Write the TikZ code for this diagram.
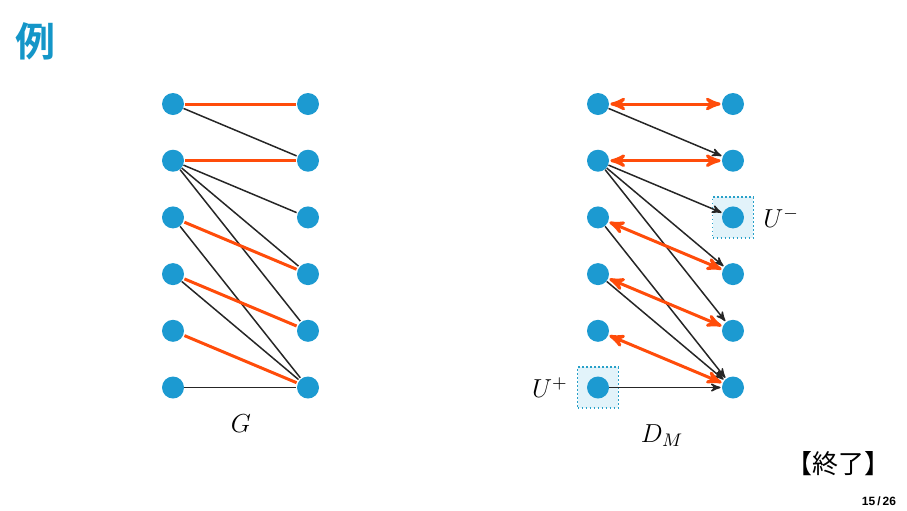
\RequirePackage{fix-cm}
\documentclass[tikz,border=0pt]{standalone}
\usepackage{fontspec}
\newfontfamily\cjk{Noto Sans CJK JP}[BoldFont={Noto Sans CJK JP Bold}]
\newfontfamily\numfont{Liberation Sans}
\usetikzlibrary{
        arrows,
        backgrounds,
        fit,
        positioning
    }
\definecolor{vblue}{RGB}{28,154,209}
\definecolor{matchred}{RGB}{255,76,10}
\definecolor{titleblue}{RGB}{20,150,200}
\definecolor{boxfill}{RGB}{226,243,250}
\definecolor{boxline}{RGB}{40,160,200}
\tikzset{vtx/.style={circle,fill=vblue,inner sep=0pt,minimum size=11pt}}
\tikzset{plain/.style={line width=0.75pt,black!85,shorten >=0.5pt}}
\tikzset{match/.style={line width=1.5pt,matchred,shorten >=0.5pt,shorten <=0.5pt}}
\tikzset{ubox/.style={draw=boxline,fill=boxfill,line width=0.8pt,dash pattern=on 0.9pt off 1.1pt,inner sep=4.5pt}}
\tikzset{mathlbl/.style={font=\fontsize{13}{15}\selectfont}}

\begin{document}
\begin{tikzpicture}[x=0.5pt,y=-0.5pt,>=stealth',node distance=28.35pt]
\useasboundingbox (0,0) rectangle (907,510);
\node[font=\cjk\bfseries\fontsize{20}{24}\selectfont,text=titleblue] (title) at (36,41) {例};

% G
\node[vtx] (g1) at (173,104) {};
\node[vtx] (g2) [below of=g1] {};
\node[vtx] (g3) [below of=g2] {};
\node[vtx] (g4) [below of=g3] {};
\node[vtx] (g5) [below of=g4] {};
\node[vtx] (g6) [below of=g5] {};
\node[vtx] (h1) [right of=g1,node distance=67.5pt] {};
\node[vtx] (h2) [below of=h1] {};
\node[vtx] (h3) [below of=h2] {};
\node[vtx] (h4) [below of=h3] {};
\node[vtx] (h5) [below of=h4] {};
\node[vtx] (h6) [below of=h5] {};
\path[plain]
    (g1) edge (h2)
    (g2) edge (h3) edge (h4) edge (h5)
    (g3) edge (h6)
    (g4) edge (h6)
    (g6) edge (h6)
;
\path[match]
    (g1) edge (h1)
    (g2) edge (h2)
    (g3) edge (h4)
    (g4) edge (h5)
    (g5) edge (h6)
;
\node[mathlbl] (glbl) at (241,424) {$G$};

% D_M
\node[vtx] (d1) at (598,104) {};
\node[vtx] (d2) [below of=d1] {};
\node[vtx] (d3) [below of=d2] {};
\node[vtx] (d4) [below of=d3] {};
\node[vtx] (d5) [below of=d4] {};
\node[vtx] (d6) [below of=d5] {};
\node[vtx] (e1) [right of=d1,node distance=67.5pt] {};
\node[vtx] (e2) [below of=e1] {};
\node[vtx] (e3) [below of=e2] {};
\node[vtx] (e4) [below of=e3] {};
\node[vtx] (e5) [below of=e4] {};
\node[vtx] (e6) [below of=e5] {};
\begin{scope}[on background layer]
    \node[ubox,fit=(e3)] (uminus) {};
    \node[ubox,fit=(d6)] (uplus) {};
\end{scope}
\path[->,plain]
    (d1) edge (e2)
    (d2) edge (e3) edge (e4) edge (e5)
    (d3) edge (e6)
    (d4) edge (e6)
    (d6) edge (e6)
;
\path[<->,match]
    (d1) edge (e1)
    (d2) edge (e2)
    (d3) edge (e4)
    (d4) edge (e5)
    (d5) edge (e6)
;
\node[mathlbl] (umlbl) [right=1pt of uminus] {$U^-$};
\node[mathlbl] (uplbl) [left=1pt of uplus] {$U^+$};
\node[mathlbl] (dlbl) at (662,436) {$D_M$};

\node[font=\cjk\fontsize{13}{16}\selectfont] (owari) at (838,464) {【終了】};
\node[font=\numfont\bfseries\fontsize{6}{7}\selectfont] (pnum) at (879,501) {15\,/\,26};
\end{tikzpicture}
\end{document}
